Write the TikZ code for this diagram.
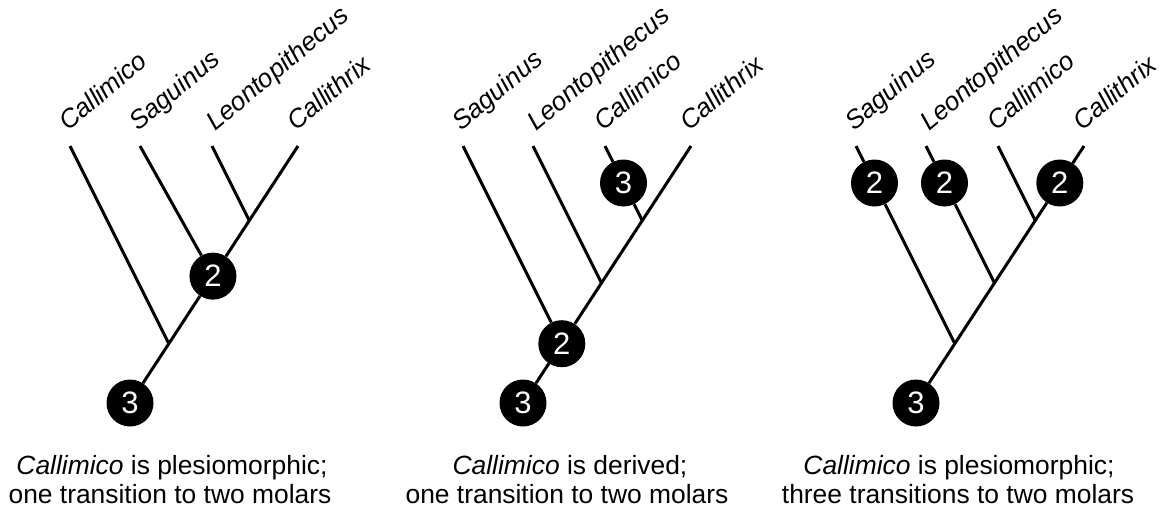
\documentclass[tikz,border=0pt]{standalone}
\usepackage{fontspec}
\setmainfont{Liberation Sans}
\usetikzlibrary{calc}
\begin{document}
\begin{tikzpicture}[x=1pt,y=-1pt,
  branch/.style={line width=3pt},
  state/.style={circle, fill=black, minimum size=47pt, inner sep=0pt,
    text=white, font=\fontsize{31}{34}\selectfont},
  taxon/.style={anchor=base west, rotate=40, inner sep=0pt,
    font=\fontsize{26}{30}\selectfont\itshape},
  caption/.style={anchor=base, inner sep=0pt,
    font=\fontsize{26.4}{30}\selectfont}]
\useasboundingbox (0,0) rectangle (1164,519);

% ---------- Tree 1: Callimico basal ----------
\begin{scope}
  \coordinate (a-tA) at (70,146);
  \coordinate (a-tB) at (140,146);
  \coordinate (a-tC) at (212,146);
  \coordinate (a-tD) at (298,146);
  \coordinate (a-jA) at (168.8,343.7);
  \coordinate (a-jB) at (208.5,283.0);
  \coordinate (a-jC) at (249.3,220.6);
  \node[state] (a-r) at (130,403) {3};
  \node[state] (a-n) at ($(a-jB)!0.05!(a-tD)$) {2};
  \draw[branch] (a-r) -- (a-n) -- (a-tD);
  \draw[branch] (a-tA) -- (a-jA);
  \draw[branch] (a-tB) -- (a-n);
  \draw[branch] (a-tC) -- (a-jC);
  \node[taxon] (a-lA) at ($(a-tA)+(-2,-14)$) {Callimico};
  \node[taxon] (a-lB) at ($(a-tB)+(-2,-14)$) {Saguinus};
  \node[taxon] (a-lC) at ($(a-tC)+(3,-14)$) {Leontopithecus};
  \node[taxon] (a-lD) at ($(a-tD)+(-2,-14)$) {Callithrix};
  \node[caption] (a-c1) at (172,474) {\textit{Callimico} is plesiomorphic;};
  \node[caption] (a-c2) at (170,503) {one transition to two molars};
\end{scope}

% ---------- Tree 2: Callimico derived ----------
\begin{scope}[shift={(393,0)}]
  \coordinate (b-tA) at (70,146);
  \coordinate (b-tB) at (140,146);
  \coordinate (b-tC) at (212,146);
  \coordinate (b-tD) at (298,146);
  \coordinate (b-jA) at (168.8,343.7);
  \coordinate (b-jB) at (208.5,283.0);
  \coordinate (b-jC) at (249.3,220.6);
  \node[state] (b-r) at (130,403) {3};
  \node[state] (b-n) at (b-jA) {2};
  \node[state] (b-m) at (230.5,183) {3};
  \draw[branch] (b-r) -- (b-n) -- (b-tD);
  \draw[branch] (b-tA) -- (b-n);
  \draw[branch] (b-tB) -- (b-jB);
  \draw[branch] (b-tC) -- (b-m) -- (b-jC);
  \node[taxon] (b-lA) at ($(b-tA)+(-2,-14)$) {Saguinus};
  \node[taxon] (b-lB) at ($(b-tB)+(3,-14)$) {Leontopithecus};
  \node[taxon] (b-lC) at ($(b-tC)+(-2,-14)$) {Callimico};
  \node[taxon] (b-lD) at ($(b-tD)+(-2,-14)$) {Callithrix};
  \node[caption] (b-c1) at (177,474) {\textit{Callimico} is derived;};
  \node[caption] (b-c2) at (174,503) {one transition to two molars};
\end{scope}

% ---------- Tree 3: three transitions ----------
\begin{scope}[shift={(786,0)}]
  \coordinate (c-tA) at (70,146);
  \coordinate (c-tB) at (140,146);
  \coordinate (c-tC) at (212,146);
  \coordinate (c-tD) at (298,146);
  \coordinate (c-jA) at (168.8,343.7);
  \coordinate (c-jB) at (208.5,283.0);
  \coordinate (c-jC) at (249.3,220.6);
  \node[state] (c-r) at (130,403) {3};
  \node[state] (c-na) at (88.5,183) {2};
  \node[state] (c-nb) at (158.5,183) {2};
  \node[state] (c-nd) at (273.8,183) {2};
  \draw[branch] (c-r) -- (c-nd) -- (c-tD);
  \draw[branch] (c-tA) -- (c-na) -- (c-jA);
  \draw[branch] (c-tB) -- (c-nb) -- (c-jB);
  \draw[branch] (c-tC) -- (c-jC);
  \node[taxon] (c-lA) at ($(c-tA)+(-2,-14)$) {Saguinus};
  \node[taxon] (c-lB) at ($(c-tB)+(3,-14)$) {Leontopithecus};
  \node[taxon] (c-lC) at ($(c-tC)+(-2,-14)$) {Callimico};
  \node[taxon] (c-lD) at ($(c-tD)+(-2,-14)$) {Callithrix};
  \node[caption] (c-c1) at (173,474) {\textit{Callimico} is plesiomorphic;};
  \node[caption] (c-c2) at (172,503) {three transitions to two molars};
\end{scope}
\end{tikzpicture}
\end{document}
